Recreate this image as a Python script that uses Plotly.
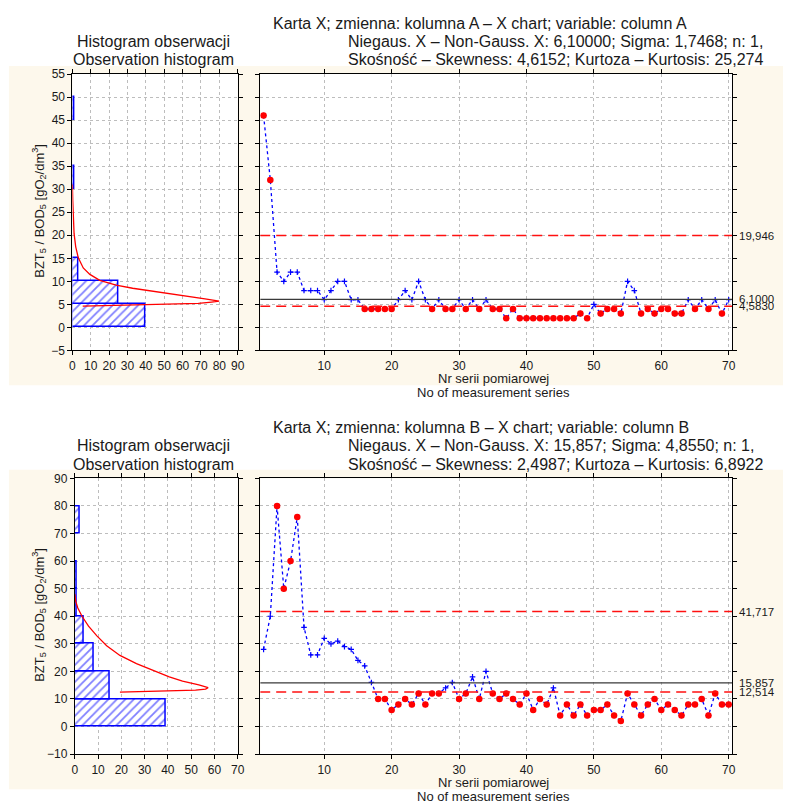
import numpy as np
import plotly.graph_objects as go

# ---------------- data ----------------
obs_no = list(range(1, 71))

col_A = [46, 32, 12, 10, 12, 12, 8, 8, 8, 6, 8, 10, 10, 6, 6, 4, 4, 4, 4, 4,
         6, 8, 6, 10, 6, 4, 6, 4, 4, 6, 4, 6, 4, 6, 4, 4, 2, 4, 2, 2,
         2, 2, 2, 2, 2, 2, 2, 3, 2, 5, 3, 4, 4, 3, 10, 8, 3, 4, 3, 4,
         4, 3, 3, 6, 4, 6, 4, 6, 3, 6]

col_B = [28, 40, 80, 50, 60, 76, 36, 26, 26, 32, 30, 31, 29, 28, 24, 22, 16, 10, 10, 6,
         8, 10, 8, 12, 8, 12, 12, 14, 16, 10, 12, 18, 10, 20, 12, 10, 12, 10, 8, 12,
         6, 10, 8, 14, 4, 8, 4, 8, 4, 6, 6, 8, 4, 2, 12, 8, 4, 8, 10, 6,
         8, 6, 4, 8, 8, 10, 4, 12, 8, 8]

limits_A = [6.1, 19.946, 4.583]          # centre, UCL, LCL
limit_labels_A = ["6,1000", "19,946", "4,5830"]
limits_B = [15.857, 41.717, 12.514]
limit_labels_B = ["15,857", "41,717", "12,514"]

bin_width_A = 5
bin_width_B = 10

# fitted (non-Gaussian) density curve
curveA_count = [5.6, 41.8, 68.6, 75.8, 79.9, 72.2, 59.7, 50.7, 41.8, 32.8, 23.8,
                14.9, 9.5, 5.9, 3.2, 1.8, 0.9, 0.4, 0.2, 0.0]
curveA_value = [4.6, 4.9, 5.2, 5.5, 5.7, 6.2, 6.9, 7.4, 7.9, 8.5, 9.2,
                10.2, 11.5, 12.9, 15.1, 17.5, 20.4, 23.9, 27.5, 31.0]
curveB_count = [19.4, 40.6, 51.9, 56.2, 57.3, 53.3, 46.3, 40.6, 33.5, 26.5, 19.4,
                13.7, 9.5, 5.9, 3.1, 1.3, 0.4, 0.0]
curveB_value = [12.5, 12.8, 13.2, 13.6, 14.1, 15.1, 16.5, 18.0, 20.3, 22.8, 25.8,
                29.3, 32.9, 36.4, 40.0, 43.0, 45.5, 48.0]

titles_A = ["Karta X; zmienna: kolumna A – X chart; variable: column A",
            "Niegaus. X – Non-Gauss. X: 6,10000; Sigma: 1,7468; n: 1,",
            "Skośność – Skewness: 4,6152; Kurtoza – Kurtosis: 25,274"]
titles_B = ["Karta X; zmienna: kolumna B – X chart; variable: column B",
            "Niegaus. X – Non-Gauss. X: 15,857; Sigma: 4,8550; n: 1,",
            "Skośność – Skewness: 2,4987; Kurtoza – Kurtosis: 6,8922"]
hist_title = ["Histogram obserwacji", "Observation histogram"]
x_title = ["Nr serii pomiarowej", "No of measurement series"]
y_title = "BZT<sub>5</sub> / BOD<sub>5</sub> [gO<sub>2</sub>/dm<sup>3</sup>]"

# ---------------- layout helpers ----------------
W, H = 790, 808
FONT = "Liberation Sans"
TXT = "#1a1a1a"
CREAM = "#FDF8EC"
BLUE = "#0000FF"
RED = "#FF0000"


def fx(px):
    return px / W


def fy(py):
    return 1 - py / H


panels = [
    dict(hx=(70.3, 237.7), cx=(260.5, 738.4), y=(68.2, 349.5), yr=[-5, 55], ydt=5,
         hr=[0, 90], data=col_A, lim=limits_A, lab=limit_labels_A, bw=bin_width_A,
         cc=curveA_count, cv=curveA_value, titles=titles_A, cream=(60, 385)),
    dict(hx=(72.7, 237.7), cx=(260.5, 738.4), y=(479.7, 760.3), yr=[-10, 90], ydt=10,
         hr=[0, 70], data=col_B, lim=limits_B, lab=limit_labels_B, bw=bin_width_B,
         cc=curveB_count, cv=curveB_value, titles=titles_B, cream=(471, 796)),
]

fig = go.Figure()
shapes = []
annotations = []

axis_common = dict(showgrid=True, gridcolor="#BDBDBD", griddash="dot", gridwidth=1,
                   showline=True, linecolor="#000000", linewidth=1, mirror="ticks",
                   ticks="outside", ticklen=4, tickcolor="#000000", zeroline=False,
                   tickfont=dict(family=FONT, size=12, color=TXT))

for i, p in enumerate(panels):
    hx_id = 2 * i + 1
    cx_id = 2 * i + 2
    hxa_l = "xaxis" if hx_id == 1 else f"xaxis{hx_id}"
    hya_l = "yaxis" if hx_id == 1 else f"yaxis{hx_id}"
    hxa_r = "x" if hx_id == 1 else f"x{hx_id}"
    hya_r = "y" if hx_id == 1 else f"y{hx_id}"
    cxa, cya = f"x{cx_id}", f"y{cx_id}"
    ydom = [fy(p["y"][1]), fy(p["y"][0])]
    hxd = [fx(p["hx"][0]), fx(p["hx"][1])]
    cxd = [fx(p["cx"][0]), fx(p["cx"][1])]

    # cream background band
    shapes.append(dict(type="rect", xref="paper", yref="paper", x0=fx(6), x1=1,
                       y0=fy(p["cream"][1]), y1=fy(p["cream"][0]),
                       fillcolor=CREAM, line=dict(width=0), layer="below"))
    # white plot areas
    for xd in (hxd, cxd):
        shapes.append(dict(type="rect", xref="paper", yref="paper",
                           x0=xd[0], x1=xd[1], y0=ydom[0], y1=ydom[1],
                           fillcolor="white", line=dict(width=0), layer="below"))

    # ---- histogram (right-closed bins) ----
    vals = np.array(p["data"], dtype=float)
    bw = p["bw"]
    idx = (np.ceil(vals / bw) - 1).astype(int)
    counts = np.bincount(idx)
    centers = (np.arange(len(counts)) + 0.5) * bw
    keep = counts > 0
    fig.add_trace(go.Bar(
        x=counts[keep], y=centers[keep], orientation="h", width=bw,
        marker=dict(color="white",
                    line=dict(color=BLUE, width=1.5),
                    pattern=dict(shape="/", fgcolor=BLUE, bgcolor="white",
                                 size=6, solidity=0.3)),
        xaxis=hxa_r, yaxis=hya_r, hoverinfo="skip"))
    fig.add_trace(go.Scatter(x=p["cc"], y=p["cv"], mode="lines",
                             line=dict(color=RED, width=1.3),
                             xaxis=hxa_r, yaxis=hya_r, hoverinfo="skip"))

    # ---- control chart ----
    centre, ucl, lcl = p["lim"]
    shapes.append(dict(type="line", xref=cxa, yref=cya, x0=0.5, x1=70.5,
                       y0=centre, y1=centre, line=dict(color="#3a3a3a", width=1.2),
                       layer="above"))
    for lv in (ucl, lcl):
        shapes.append(dict(type="line", xref=cxa, yref=cya, x0=0.5, x1=70.5,
                           y0=lv, y1=lv, line=dict(color="#FF1010", width=1.4,
                                                   dash="10px,6px"),
                           layer="above"))
    fig.add_trace(go.Scatter(
        x=obs_no, y=p["data"], mode="lines+markers",
        line=dict(color=BLUE, width=1.3, dash="dot"),
        marker=dict(symbol="cross-thin", size=4, line=dict(color=BLUE, width=1.2)),
        xaxis=cxa, yaxis=cya, hoverinfo="skip"))
    out_x = [n for n, v in zip(obs_no, p["data"]) if v > ucl or v < lcl]
    out_y = [v for v in p["data"] if v > ucl or v < lcl]
    fig.add_trace(go.Scatter(x=out_x, y=out_y, mode="markers",
                             marker=dict(symbol="circle", size=6.5, color=RED),
                             xaxis=cxa, yaxis=cya, hoverinfo="skip"))

    for lv, lt in zip(p["lim"], p["lab"]):
        annotations.append(dict(xref="paper", yref=cya, x=fx(743), y=lv, text=lt,
                                xanchor="left", yanchor="middle", showarrow=False,
                                font=dict(family=FONT, size=11.5, color=TXT)))

    # axes
    fig.update_layout(**{
        hxa_l: dict(axis_common, domain=hxd, range=p["hr"], dtick=10, tick0=0,
                    anchor=hya_r),
        hya_l: dict(axis_common, domain=ydom, range=p["yr"], dtick=p["ydt"],
                    tick0=0, anchor=hxa_r),
        f"xaxis{cx_id}": dict(axis_common, domain=cxd, range=[0.5, 70.5],
                              tickvals=[10, 20, 30, 40, 50, 60, 70], anchor=cya),
        f"yaxis{cx_id}": dict(axis_common, domain=ydom, range=p["yr"], dtick=p["ydt"],
                              tick0=0, showticklabels=False, anchor=cxa),
    })

    # titles
    top = p["y"][0]
    annotations.append(dict(xref="paper", yref="paper", x=fx(271), y=fy(top - 51.5),
                            text=p["titles"][0], xanchor="left", yanchor="middle",
                            showarrow=False, font=dict(family=FONT, size=16, color=TXT)))
    for k in (1, 2):
        annotations.append(dict(xref="paper", yref="paper", x=fx(347),
                                y=fy(top - 51.5 + 18.5 * k), text=p["titles"][k],
                                xanchor="left", yanchor="middle", showarrow=False,
                                font=dict(family=FONT, size=16, color=TXT)))
        annotations.append(dict(xref="paper", yref="paper", x=fx(152),
                                y=fy(top - 51.5 + 18.5 * k), text=hist_title[k - 1],
                                xanchor="center", yanchor="middle", showarrow=False,
                                font=dict(family=FONT, size=16, color=TXT)))
    bottom = p["y"][1]
    for k in (0, 1):
        annotations.append(dict(xref="paper", yref="paper", x=fx(497),
                                y=fy(bottom + 29 + 14 * k), text=x_title[k],
                                xanchor="center", yanchor="middle", showarrow=False,
                                font=dict(family=FONT, size=13, color=TXT)))
    annotations.append(dict(xref="paper", yref="paper", x=fx(37),
                            y=fy((p["y"][0] + p["y"][1]) / 2 - 1), text=y_title,
                            textangle=-90, xanchor="center", yanchor="middle",
                            showarrow=False, font=dict(family=FONT, size=13, color=TXT)))

fig.update_layout(width=W, height=H, margin=dict(l=0, r=0, t=0, b=0),
                  paper_bgcolor="white", plot_bgcolor="white", showlegend=False,
                  bargap=0, font=dict(family=FONT, size=12, color=TXT),
                  shapes=shapes, annotations=annotations)

fig.write_html("out.html", config={"displayModeBar": False},
               post_script="document.body.style.margin='0';"
                           "document.body.style.overflow='hidden';")
